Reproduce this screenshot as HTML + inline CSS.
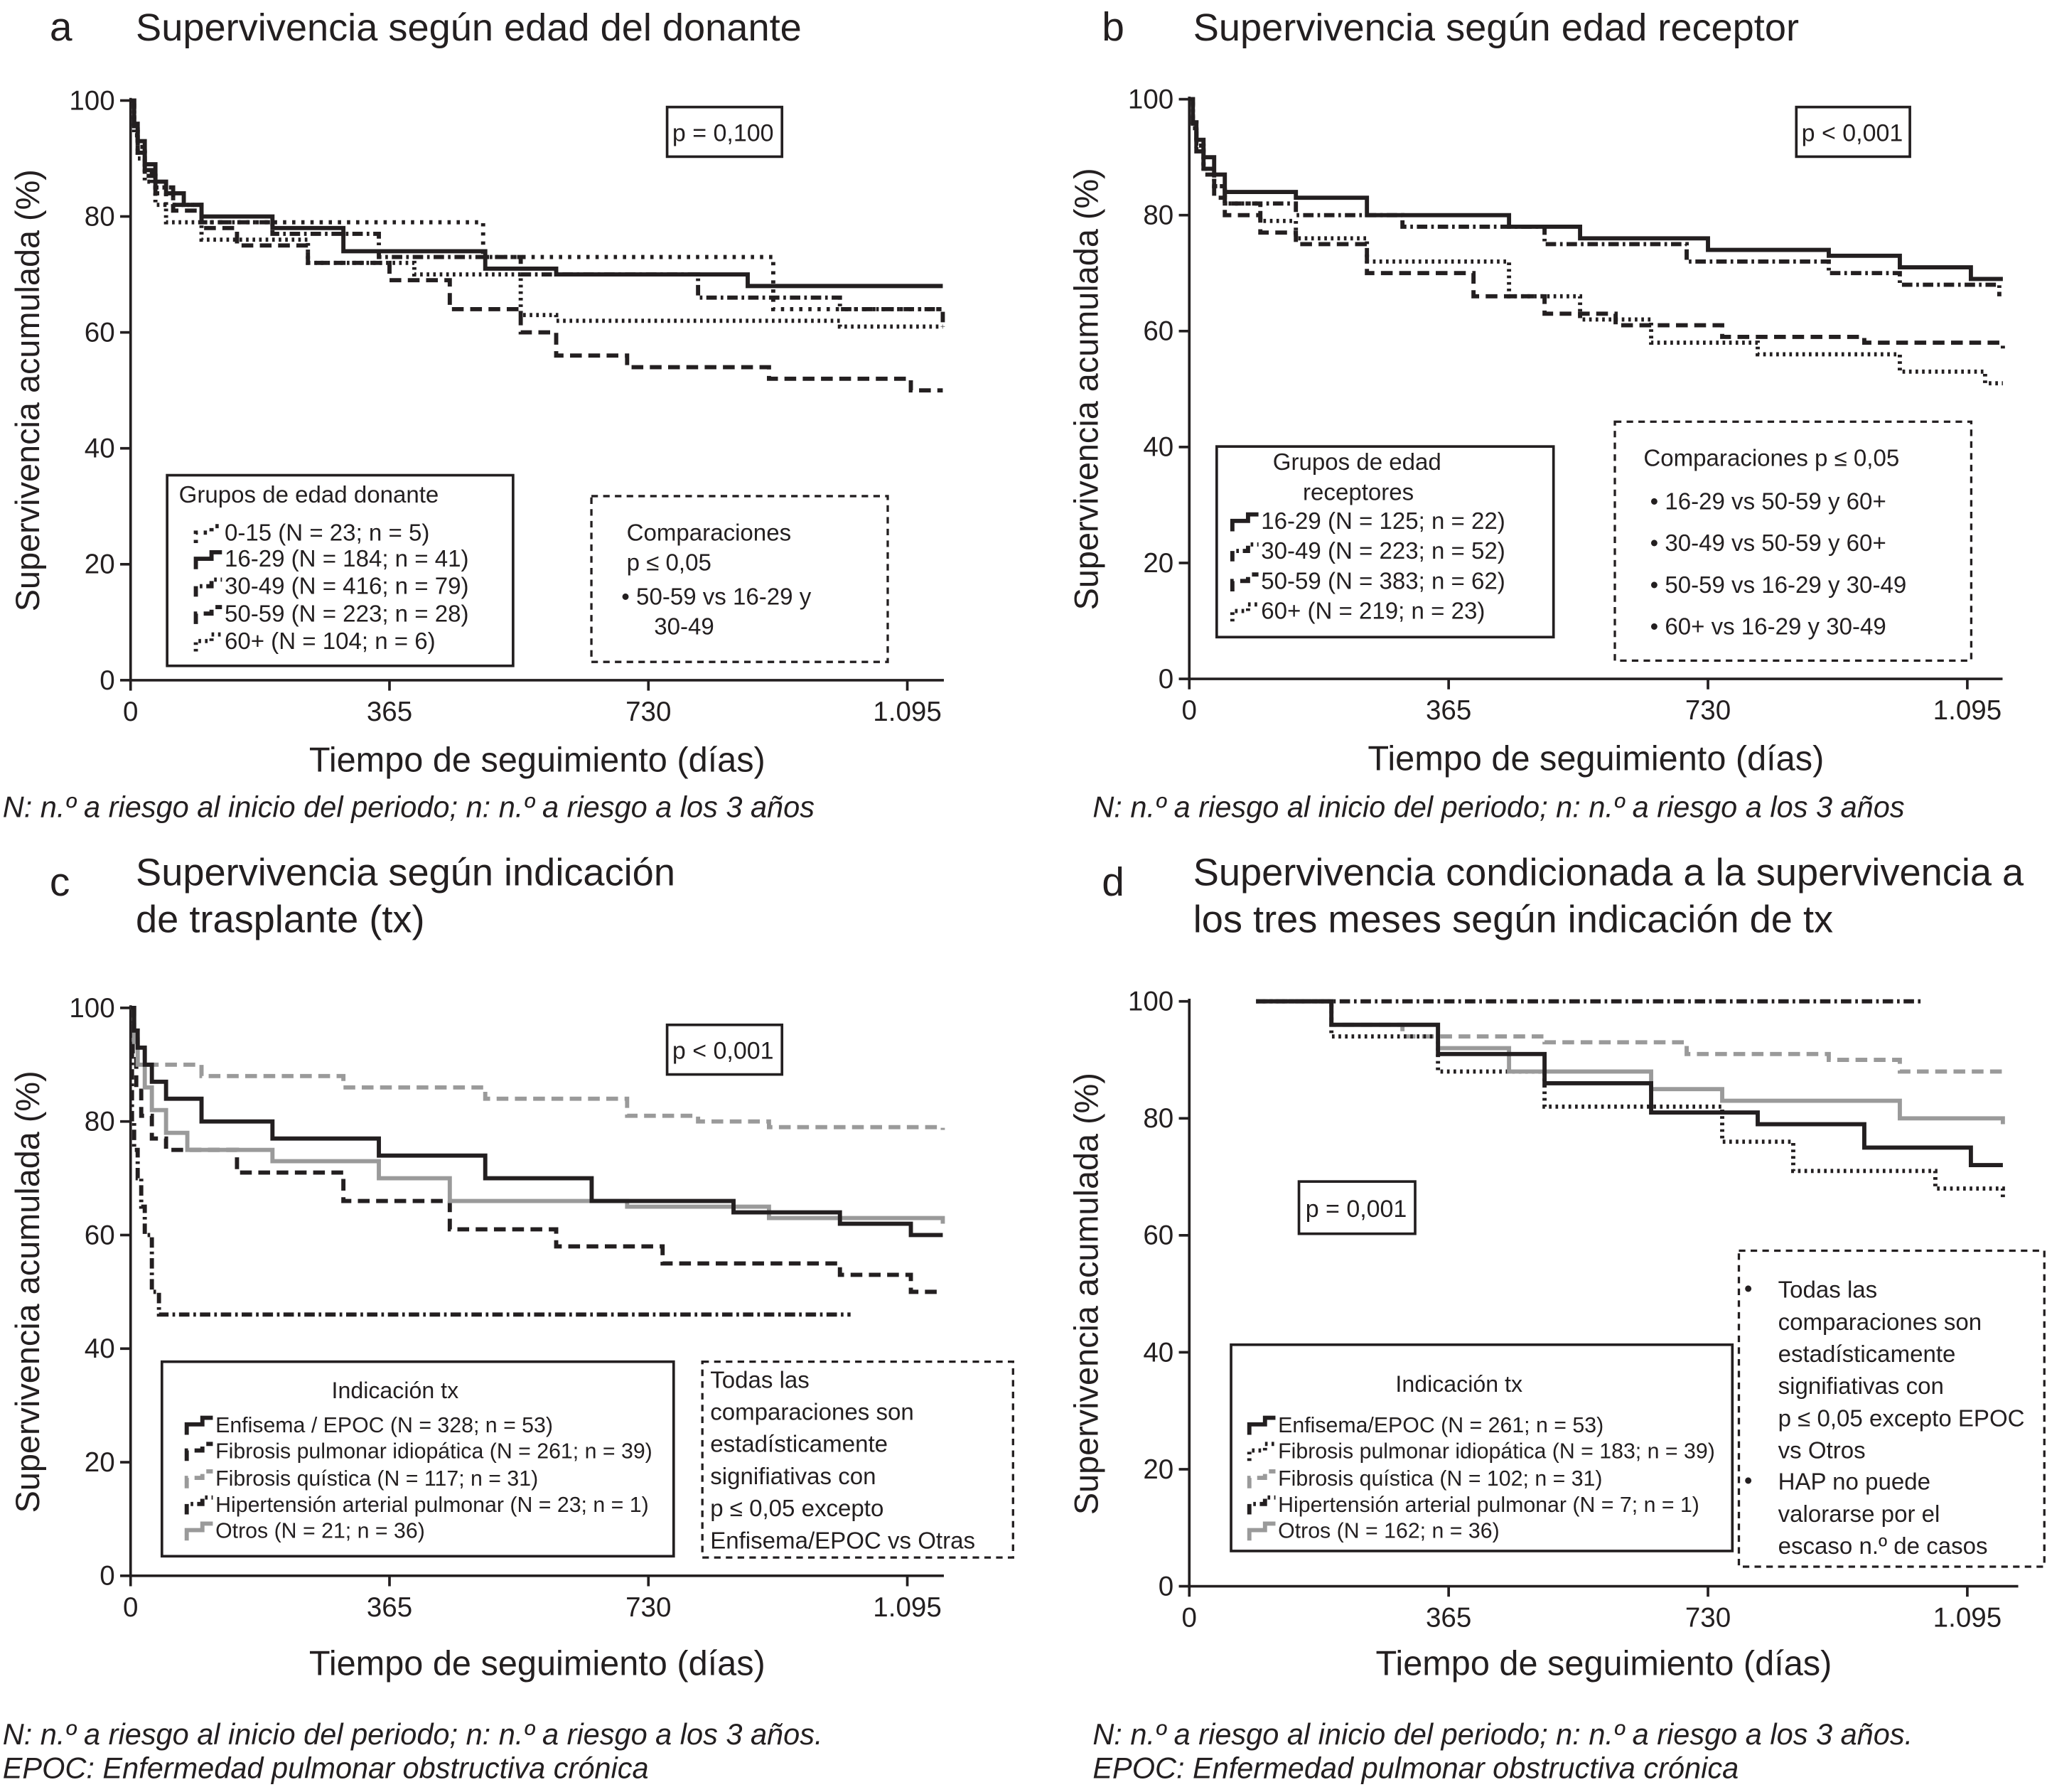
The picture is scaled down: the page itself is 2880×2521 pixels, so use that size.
<!DOCTYPE html>
<html><head><meta charset="utf-8"><style>
html,body{margin:0;padding:0;background:#fff}
svg{display:block}
text{font-family:"Liberation Sans",Arial,sans-serif;fill:#231f20}
</style></head><body>
<svg id="fig" width="2880" height="2521" viewBox="0 0 1568 1372.6" xmlns="http://www.w3.org/2000/svg"></svg>
<script>
// ---- Panel A data (days, survival %) ----
const aDays_0_15  = [0,5,10,20,30,50,100,497,906,1145];
const aSurv_0_15  = [100,95,91,88,85,82,79,73,64,64];
const aDays_16_29 = [0,5,10,20,35,50,75,100,200,300,500,600,870,1145];
const aSurv_16_29 = [100,96,93,89,86,84,82,80,78,74,71,70,68,68];
const aDays_30_49 = [0,5,10,20,35,60,100,200,350,550,800,1000,1145];
const aSurv_30_49 = [100,95,92,88,85,82,79,77,73,70,66,64,61];
const aDays_50_59 = [0,5,10,20,35,60,100,150,250,365,450,550,600,700,900,1100,1145];
const aSurv_50_59 = [100,95,91,87,84,81,78,75,72,69,64,60,56,54,52,50,50];
const aDays_60p   = [0,5,10,20,35,50,100,250,400,550,600,1000,1145];
const aSurv_60p   = [100,94,90,86,82,79,76,72,70,63,62,61,61];
// ---- Panel B ----
const bDays_16_29 = [0,5,10,20,35,50,150,250,450,550,730,900,1000,1100,1145];
const bSurv_16_29 = [100,96,93,90,87,84,83,80,78,76,74,73,71,69,69];
const bDays_30_49 = [0,5,10,20,35,50,150,300,500,700,900,1000,1140];
const bSurv_30_49 = [100,96,92,88,85,82,80,78,75,72,70,68,66];
const bDays_50_59 = [0,5,10,20,35,50,100,150,250,400,500,600,750,950,1145];
const bSurv_50_59 = [100,95,91,87,83,80,77,75,70,66,63,61,59,58,57];
const bDays_60p   = [0,5,10,20,35,50,100,150,250,450,550,650,800,1000,1120,1145];
const bSurv_60p   = [100,95,92,88,85,82,79,76,72,66,62,58,56,53,51,51];
// ---- Panel C ----
const cDays_enf = [0,5,10,20,30,50,100,200,350,500,650,850,1000,1100,1145];
const cSurv_enf = [100,96,93,90,87,84,80,77,74,70,66,64,62,60,60];
const cDays_fpi = [0,3,8,15,30,50,150,300,450,600,750,1000,1100,1145];
const cSurv_fpi = [100,92,86,81,77,75,71,66,61,58,55,53,50,50];
const cDays_fq  = [0,5,10,20,100,300,500,700,800,900,1145];
const cSurv_fq  = [100,96,93,90,88,86,84,81,80,79,78.5];
const cDays_hap = [0,2,5,10,15,20,30,40,1015];
const cSurv_hap = [100,80,75,70,65,60,50,46,46];
const cDays_otr = [0,5,10,20,30,50,80,200,350,450,700,900,1145];
const cSurv_otr = [100,94,90,86,82,78,75,73,70,66,65,63,62];
// ---- Panel D ----
const dDays_enf = [94,200,350,500,650,800,950,1100,1145];
const dSurv_enf = [100,96,91,86,81,79,75,72,72];
const dDays_fpi = [94,200,350,500,750,850,1050,1145];
const dSurv_fpi = [100,94,88,82,76,71,68,66];
const dDays_fq  = [94,200,300,500,700,900,1000,1145];
const dSurv_fq  = [100,96,94,93,91,90,88,87.5];
const dDays_hap = [94,1033];
const dSurv_hap = [100,100];
const dDays_otr = [94,200,350,450,650,750,1000,1145];
const dSurv_otr = [100,96,92,88,85,83,80,79];
const xTicks = [0,365,730,1095];
const xTickLabels = ["0","365","730","1.095"];
const yTicks = [0,20,40,60,80,100];

const svg=document.getElementById('fig');
const NS='http://www.w3.org/2000/svg';
function mk(tag,attrs,parent){const e=document.createElementNS(NS,tag);for(const k in attrs)e.setAttribute(k,attrs[k]);(parent||svg).appendChild(e);return e;}
function txt(s,x,y,size,extra,parent){const t=mk('text',Object.assign({x:x,y:y,'font-size':size},extra||{}),parent);t.textContent=s;return t;}

const styles={
 solid:{stroke:'#231f20','stroke-width':3.2},
 dash:{stroke:'#231f20','stroke-width':3.2,'stroke-dasharray':'9 5'},
 dashdot:{stroke:'#231f20','stroke-width':3.2,'stroke-dasharray':'8 3 2 3'},
 dot:{stroke:'#231f20','stroke-width':3.2,'stroke-dasharray':'2 3'},
 dotwide:{stroke:'#231f20','stroke-width':3.2,'stroke-dasharray':'2.5 4.5'},
 greydash:{stroke:'#9a9a9a','stroke-width':3.2,'stroke-dasharray':'9 5'},
 grey:{stroke:'#9a9a9a','stroke-width':3.2}
};

function panel(cfg){
 const g=mk('g',{});
 
 
 const X=d=>cfg.x0+d*(cfg.x1095-cfg.x0)/1095;
 const Y=v=>cfg.y0-v*(cfg.y0-cfg.y100)/100;
 const ax=mk('path',{d:`M${cfg.x0},${cfg.y100-2} V${cfg.y0} H${cfg.xEnd}`,fill:'none',stroke:'#231f20','stroke-width':2},g);
 
 
 yTicks.forEach(v=>{
  mk('line',{x1:cfg.x0-8,x2:cfg.x0,y1:Y(v),y2:Y(v),stroke:'#231f20','stroke-width':2},g);
  const t=txt(String(v),cfg.x0-12,Y(v)+7,21,{'text-anchor':'end'},g);
  
  
 });
 xTicks.forEach((d,i)=>{
  mk('line',{x1:X(d),x2:X(d),y1:cfg.y0,y2:cfg.y0+8,stroke:'#231f20','stroke-width':2},g);
  const t=txt(xTickLabels[i],X(d),cfg.y0+31,21,{'text-anchor':'middle'},g);
  
  
 });
 const yt=txt('Supervivencia acumulada (%)',0,0,25.5,{'text-anchor':'middle',transform:`translate(${cfg.x0-70},${(cfg.y0+cfg.y100)/2}) rotate(-90)`},g);
 
 
 const xt=txt('Tiempo de seguimiento (días)',(cfg.x0+cfg.xEnd)/2,cfg.y0+cfg.xtOff,26.5,{'text-anchor':'middle'},g);
 
 
 cfg.series.forEach(s=>{
  let d=`M${X(s.days[0])},${Y(s.surv[0])}`;
  for(let i=1;i<s.days.length;i++){d+=` H${X(s.days[i])} V${Y(s.surv[i])}`;}
  const p=mk('path',Object.assign({d:d,fill:'none'},styles[s.style]),g);
  
  
 });
 return g;
}
function box(x,y,w,h,dashed,name){
 const r=mk('rect',{x:x,y:y,width:w,height:h,fill:'#fff',stroke:'#231f20','stroke-width':dashed?1.8:2,'stroke-dasharray':dashed?'5 4':'none'});
 
 
}
function legendItem(x,y,style,label,size){
 mk('path',Object.assign({d:`M${x},${y+2} V${y-6} H${x+12} V${y-11} H${x+20}`,fill:'none'},styles[style]));
 const t=txt(label,x+22,y,size||18);
 
 
}

panel({name:'panel-a',x0:100,x1095:695,xEnd:723,y0:521,y100:77,xtOff:70,series:[
 {name:'line-0-15',days:aDays_0_15,surv:aSurv_0_15,style:'dotwide'},
 {name:'line-60plus',days:aDays_60p,surv:aSurv_60p,style:'dot'},
 {name:'line-50-59',days:aDays_50_59,surv:aSurv_50_59,style:'dash'},
 {name:'line-30-49',days:aDays_30_49,surv:aSurv_30_49,style:'dashdot'},
 {name:'line-16-29',days:aDays_16_29,surv:aSurv_16_29,style:'solid'}]});
panel({name:'panel-b',x0:911,x1095:1507,xEnd:1534,y0:520,y100:76,xtOff:70,series:[
 {name:'line-60plus',days:bDays_60p,surv:bSurv_60p,style:'dot'},
 {name:'line-50-59',days:bDays_50_59,surv:bSurv_50_59,style:'dash'},
 {name:'line-30-49',days:bDays_30_49,surv:bSurv_30_49,style:'dashdot'},
 {name:'line-16-29',days:bDays_16_29,surv:bSurv_16_29,style:'solid'}]});
panel({name:'panel-c',x0:100,x1095:695,xEnd:723,y0:1207,y100:772,xtOff:76,series:[
 {name:'line-fq',days:cDays_fq,surv:cSurv_fq,style:'greydash'},
 {name:'line-hap',days:cDays_hap,surv:cSurv_hap,style:'dashdot'},
 {name:'line-fpi',days:cDays_fpi,surv:cSurv_fpi,style:'dash'},
 {name:'line-otros',days:cDays_otr,surv:cSurv_otr,style:'grey'},
 {name:'line-enfisema',days:cDays_enf,surv:cSurv_enf,style:'solid'}]});
panel({name:'panel-d',x0:911,x1095:1507,xEnd:1546,y0:1215,y100:767,xtOff:68,series:[
 {name:'line-hap',days:dDays_hap,surv:dSurv_hap,style:'dashdot'},
 {name:'line-fq',days:dDays_fq,surv:dSurv_fq,style:'greydash'},
 {name:'line-fpi',days:dDays_fpi,surv:dSurv_fpi,style:'dot'},
 {name:'line-otros',days:dDays_otr,surv:dSurv_otr,style:'grey'},
 {name:'line-enfisema',days:dDays_enf,surv:dSurv_enf,style:'solid'}]});

function label(s,x,y,size,name,extra){const t=txt(s,x,y,size,extra);}
label('a',38,31,31,'panel-letter');label('b',844,31,31,'panel-letter');
label('c',38,686,31,'panel-letter');label('d',844,686,31,'panel-letter');
label('Supervivencia según edad del donante',104,31,29.5,'chart-title');
label('Supervivencia según edad receptor',914,31,29.5,'chart-title');
label('Supervivencia según indicación',104,678,29.5,'chart-title');
label('de trasplante (tx)',104,714,29.5,'chart-title');
label('Supervivencia condicionada a la supervivencia a',914,678,29.5,'chart-title');
label('los tres meses según indicación de tx',914,714,29.5,'chart-title');
const it={'font-style':'italic'};
label('N: n.º a riesgo al inicio del periodo; n: n.º a riesgo a los 3 años',2,626,22.6,'footnote',it);
label('N: n.º a riesgo al inicio del periodo; n: n.º a riesgo a los 3 años',837,626,22.6,'footnote',it);
label('N: n.º a riesgo al inicio del periodo; n: n.º a riesgo a los 3 años.',2,1336,22.6,'footnote',it);
label('EPOC: Enfermedad pulmonar obstructiva crónica',2,1362,22.6,'footnote',it);
label('N: n.º a riesgo al inicio del periodo; n: n.º a riesgo a los 3 años.',837,1336,22.6,'footnote',it);
label('EPOC: Enfermedad pulmonar obstructiva crónica',837,1362,22.6,'footnote',it);

box(511,82,88,38,false,'p-value-box');label('p = 0,100',515,108,18.5,'p-value');
box(1376,82,87,38,false,'p-value-box');label('p < 0,001',1380,108,18.5,'p-value');
box(511,785,88,38,false,'p-value-box');label('p < 0,001',515,811,18.5,'p-value');
box(995,905,89,40,false,'p-value-box');label('p = 0,001',1000,932,18.5,'p-value');

box(128,364,265,146,false,'legend-box');
label('Grupos de edad donante',137,385,18,'legend-title');
legendItem(150,414,'dotwide','0-15 (N = 23; n = 5)');
legendItem(150,434,'solid','16-29 (N = 184; n = 41)');
legendItem(150,455,'dashdot','30-49 (N = 416; n = 79)');
legendItem(150,476,'dash','50-59 (N = 223; n = 28)');
legendItem(150,497,'dot','60+ (N = 104; n = 6)');
box(453,380,227,127,true,'comparisons-box');
label('Comparaciones',480,414,18,'comparisons-text');
label('p ≤ 0,05',480,437,18,'comparisons-text');
label('•   50-59 vs 16-29 y',476,463,18,'comparisons-text');
label('30-49',501,486,18,'comparisons-text');

box(932,342,258,146,false,'legend-box');
label('Grupos de edad',975,360,18,'legend-title');
label('receptores',998,383,18,'legend-title');
legendItem(944,405,'solid','16-29 (N = 125; n = 22)');
legendItem(944,428,'dashdot','30-49 (N = 223; n  = 52)');
legendItem(944,451,'dash','50-59 (N = 383; n  = 62)');
legendItem(944,474,'dot','60+ (N = 219; n = 23)');
box(1237,323,273,183,true,'comparisons-box');
label('Comparaciones p ≤ 0,05',1259,357,18,'comparisons-text');
label('•    16-29 vs 50-59 y 60+',1264,390,18,'comparisons-text');
label('•    30-49 vs 50-59 y 60+',1264,422,18,'comparisons-text');
label('•   50-59 vs 16-29 y 30-49',1264,454,18,'comparisons-text');
label('•    60+ vs 16-29 y 30-49',1264,486,18,'comparisons-text');

box(124,1043,392,149,false,'legend-box');
label('Indicación tx',254,1071,17.5,'legend-title');
legendItem(143,1097,'solid','Enfisema / EPOC (N = 328; n = 53)',16.5);
legendItem(143,1117,'dash','Fibrosis pulmonar idiopática (N = 261; n = 39)',16.5);
legendItem(143,1138,'greydash','Fibrosis quística (N = 117; n = 31)',16.5);
legendItem(143,1158,'dashdot','Hipertensión arterial pulmonar (N = 23; n = 1)',16.5);
legendItem(143,1178,'grey','Otros (N = 21; n = 36)',16.5);
box(538,1043,238,150,true,'comparisons-box');
['Todas las','comparaciones son','estadísticamente','signifiativas con','p ≤ 0,05 excepto','Enfisema/EPOC vs Otras'].forEach((s,i)=>label(s,544,1063+i*24.6,18,'comparisons-text'));

box(943,1030,384,158,false,'legend-box');
label('Indicación tx',1069,1066,17.5,'legend-title');
legendItem(957,1097,'solid','Enfisema/EPOC (N = 261; n = 53)',16.5);
legendItem(957,1117,'dot','Fibrosis pulmonar idiopática (N = 183; n = 39)',16.5);
legendItem(957,1138,'greydash','Fibrosis quística (N = 102; n = 31)',16.5);
legendItem(957,1158,'dashdot','Hipertensión arterial pulmonar (N = 7; n = 1)',16.5);
legendItem(957,1178,'grey','Otros (N = 162; n = 36)',16.5);
box(1332,958,234,242,true,'comparisons-box');
label('•',1336,993,18,'comparisons-text');
['Todas las','comparaciones son','estadísticamente','signifiativas con','p ≤ 0,05 excepto EPOC','vs Otros'].forEach((s,i)=>label(s,1362,994+i*24.6,18,'comparisons-text'));
label('•',1336,1140,18,'comparisons-text');
['HAP no puede','valorarse por el','escaso n.º de casos'].forEach((s,i)=>label(s,1362,1141+i*24.6,18,'comparisons-text'));
</script>
</body></html>
